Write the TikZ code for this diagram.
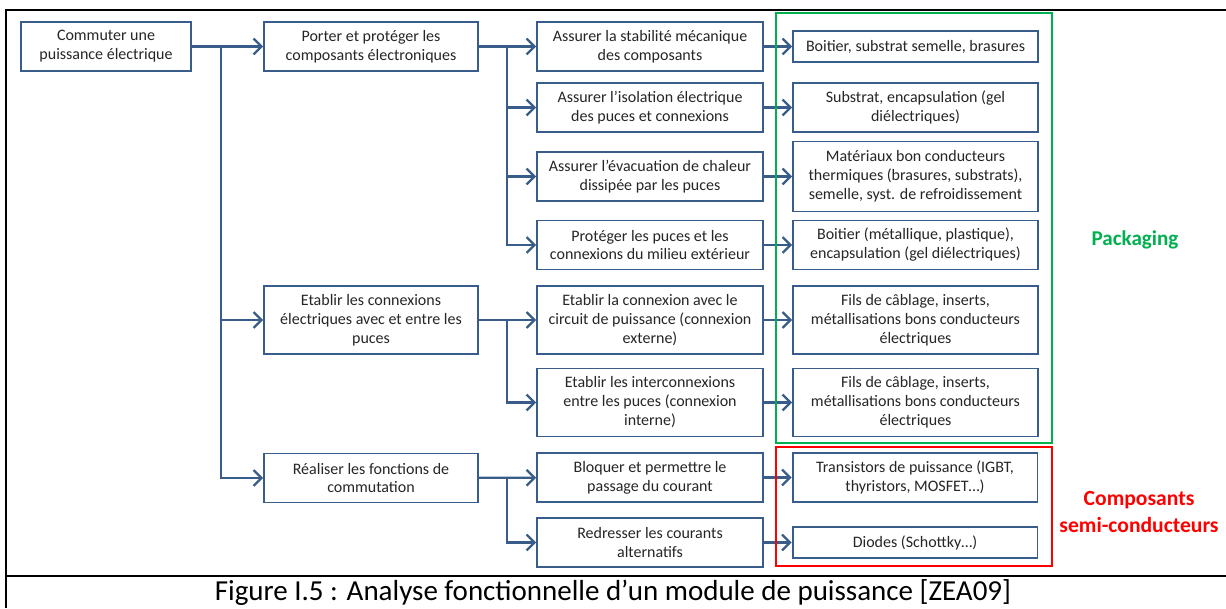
\documentclass[tikz,border=0pt]{standalone}
\usepackage{fontspec}
\setmainfont{Carlito}
\usetikzlibrary{arrows.meta}
\definecolor{bleu}{RGB}{56,93,138}
\definecolor{vert}{RGB}{0,176,80}
\definecolor{rouge}{RGB}{255,0,0}
\definecolor{texte}{RGB}{38,38,38}

\begin{document}
\begin{tikzpicture}[x=0.02cm,y=-0.02cm,line join=miter,>={Straight Barb[length=4.5pt,width=9pt]},
	boite/.style={draw=bleu,line width=1.1pt,fill=white,text=texte,align=center,inner sep=0pt,font=\fontsize{9.1}{10.8}\selectfont},
	niv1/.style={boite,minimum width=3.4cm},
	niv2/.style={boite,minimum width=4.28cm},
	niv3/.style={boite,minimum width=4.52cm},
	niv4/.style={boite,minimum width=4.9cm},
	fleche/.style={draw=bleu,line width=1.3pt,->}]
		\useasboundingbox (0,0) rectangle (1226,608);
		\clip (0,0) rectangle (1226,608);
		%cadre
		\draw[line width=1.5pt] (6,608)--(6,10)--(1240,10) ;
		\draw[line width=1.5pt] (6,576)--(1240,576) ;
		%fonctions
		\node[niv1,minimum height=0.98cm] (A) at (106,46.5) {Commuter une\\puissance électrique};
		\node[niv2,minimum height=0.98cm] (B) at (371,46.5) {Porter et protéger les\\composants électroniques};
		\node[niv2,minimum height=1.36cm] (E) at (371,320) {Etablir les connexions\\électriques avec et entre les\\puces};
		\node[niv2,minimum height=0.98cm] (F) at (371,478) {Réaliser les fonctions de\\commutation};
		%sous-fonctions
		\node[niv3,minimum height=0.98cm] (C1) at (650,46.5) {Assurer la stabilité mécanique\\des composants};
		\node[niv3,minimum height=0.98cm] (C2) at (650,107.5) {Assurer l’isolation électrique\\des puces et connexions};
		\node[niv3,minimum height=0.98cm] (C3) at (650,176.5) {Assurer l’évacuation de chaleur\\dissipée par les puces};
		\node[niv3,minimum height=0.98cm] (C4) at (650,245) {Protéger les puces et les\\connexions du milieu extérieur};
		\node[niv3,minimum height=1.36cm] (C5) at (650,320) {Etablir la connexion avec le\\circuit de puissance (connexion\\externe)};
		\node[niv3,minimum height=1.36cm] (C6) at (650,402.5) {Etablir les interconnexions\\entre les puces (connexion\\interne)};
		\node[niv3,minimum height=0.98cm] (C7) at (650,477.5) {Bloquer et permettre le\\passage du courant};
		\node[niv3,minimum height=0.98cm] (C8) at (650,542.5) {Redresser les courants\\alternatifs};
		%solutions
		\node[niv4,minimum height=0.62cm] (D1) at (915.5,46.5) {Boitier, substrat semelle, brasures};
		\node[niv4,minimum height=0.98cm] (D2) at (915.5,107.5) {Substrat, encapsulation (gel\\diélectriques)};
		\node[niv4,minimum height=1.4cm] (D3) at (915.5,176.5) {Matériaux bon conducteurs\\thermiques (brasures, substrats),\\semelle, syst. de refroidissement};
		\node[niv4,minimum height=0.98cm] (D4) at (915.5,245) {Boitier (métallique, plastique),\\encapsulation (gel diélectriques)};
		\node[niv4,minimum height=1.36cm] (D5) at (915.5,320) {Fils de câblage, inserts,\\métallisations bons conducteurs\\électriques};
		\node[niv4,minimum height=1.36cm] (D6) at (915.5,402.5) {Fils de câblage, inserts,\\métallisations bons conducteurs\\électriques};
		\node[niv4,minimum height=0.98cm] (D7) at (915,477.5) {Transistors de puissance (IGBT,\\thyristors, MOSFET…)};
		\node[niv4,minimum height=0.62cm] (D8) at (915,542.5) {Diodes (Schottky…)};
		%flèches
		\coordinate (jA) at (221,46.5) ;
		\coordinate (jB) at (507,46.5) ;
		\coordinate (jE) at (507,320) ;
		\coordinate (jF) at (507,478) ;
		\draw[fleche] (A)--(B) ;
		\draw[fleche] (jA)|-(E.west) ;
		\draw[fleche] (jA)|-(F.west) ;
		\draw[fleche] (B)--(C1) ;
		\foreach \n in {C2,C3,C4}
		\draw[fleche] (jB)|-(\n.west) ;
		\draw[fleche] (E)--(C5) ;
		\draw[fleche] (jE)|-(C6.west) ;
		\draw[fleche] (F)--(C7) ;
		\draw[fleche] (jF)|-(C8.west) ;
		\foreach \i in {1,...,8}
		\draw[fleche] (C\i)--(D\i) ;
		%groupes
		\draw[vert,line width=0.7pt] (776,13) rectangle (1052,443) ;
		\draw[rouge,line width=0.7pt] (776,447) rectangle (1052,566) ;
		\node[text=vert,font=\fontsize{12}{15}\bfseries] (pack) at (1135,240) {Packaging};
		\node[text=rouge,font=\fontsize{12.3}{15}\bfseries,align=center] (semi) at (1139,512) {Composants\\semi-conducteurs};
		%légende
		\node[font=\fontsize{16.5}{20}\selectfont] (legende) at (613,593) {Figure I.5 : Analyse fonctionnelle d’un module de puissance [ZEA09]};
	\end{tikzpicture}
\end{document}
